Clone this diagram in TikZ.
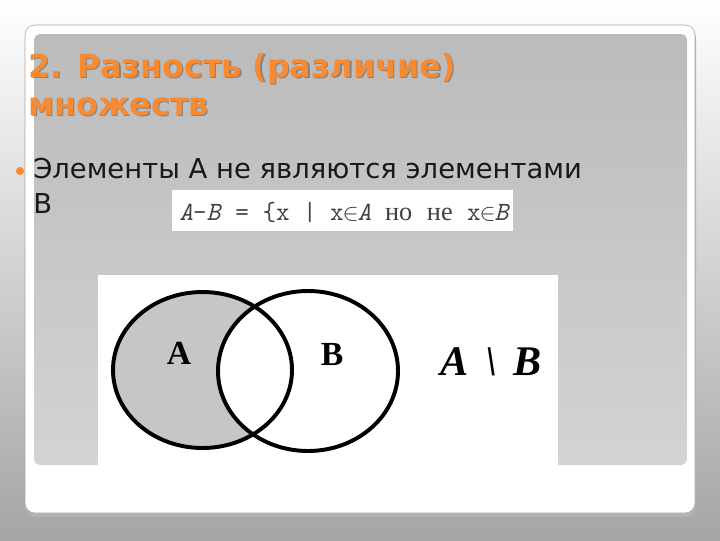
\documentclass[tikz,border=0pt]{standalone}
\usepackage{fontspec}
\setmainfont{DejaVu Sans}
\newfontfamily\cyrfont{Liberation Serif}
\newfontfamily\vennfont{Liberation Serif}
\usetikzlibrary{positioning}
\definecolor{titleorange}{HTML}{F68B33}
\definecolor{paneltop}{HTML}{BBBBBB}
\definecolor{panelbottom}{HTML}{D3D3D3}
\definecolor{bggray}{HTML}{A5A5A5}
\definecolor{setgray}{HTML}{C6C6C6}
\newcommand{\elem}{\makebox[0.525em]{$\in$}}
\newcommand{\cyrword}[1]{\makebox[1.05em]{\cyrfont #1}}
\tikzset{
  every picture/.style={
    line join=round
  },
  title/.style={
    anchor=base west, inner sep=0pt, text=titleorange,
    font=\bfseries\fontsize{22.6}{27}\selectfont
  },
  shadowed/.style={
    text=black, opacity=0.3
  },
  body/.style={
    anchor=base west, inner sep=0pt, text=black!90,
    font=\fontsize{19.5}{23}\selectfont
  },
  formula/.style={
    anchor=base west, inner sep=0pt, text=black!75,
    font=\ttfamily\fontsize{18.7}{22}\selectfont
  },
  setlabel/.style={
    inner sep=0pt, font=\vennfont\bfseries\fontsize{24}{28}\selectfont
  },
  difflabel/.style={
    anchor=base west, inner sep=0pt,
    font=\vennfont\bfseries\itshape\fontsize{30}{34}\selectfont
  }
}

\begin{document}
\begin{tikzpicture}[
    x=0.025cm, y=-0.025cm,
    venn/.style={line width=2.8pt},
    bullet/.style={circle, fill=titleorange, minimum size=5.8pt, inner sep=0pt}
  ]
  \useasboundingbox (0,0) rectangle (720,540);
  \shade [top color=white, bottom color=bggray] (0,0) rectangle (720,540);
  \fill [black!30, rounded corners=7pt] (25,28) rectangle (696,517);
  \draw [black!35, fill=white, rounded corners=7pt] (25,25) rectangle (695,513);
  \shade [top color=paneltop, bottom color=panelbottom, rounded corners=4pt]
    (34,34) rectangle (687,465);

  \node [title, shadowed] at (29.5,78.5) {2. Разность (различие)};
  \node [title] (title1) at (28,77) {2. Разность (различие)};
  \node [title, shadowed] at (29.5,116.5) {множеств};
  \node [title] (title2) at (28,115) {множеств};

  \node [bullet] (dot) at (20,171) {};
  \node [body] (line1) at (33,178) {Элементы А не являются элементами};
  \node [body] (line2) at (33,213) {В};

  \fill [white] (172,190) rectangle (513,231);
  \node [formula] (def) at (179,220)
    {\textit{A}-\textit{B} = \{x | x\elem\textit{A} \cyrword{но} \cyrword{не} x\elem\textit{B}};

  \fill [white] (98,275) rectangle (558,466);
  \fill [setgray] (202.5,370) ellipse [x radius=89.5, y radius=78];
  \fill [white] (308,371) ellipse [x radius=90, y radius=80];
  \draw [venn] (202.5,370) ellipse [x radius=89.5, y radius=78];
  \draw [venn] (308,371) ellipse [x radius=90, y radius=80];
  \node [setlabel] (setA) at (179,353) {A};
  \node [setlabel] (setB) at (332,354) {B};
  \node [difflabel] (diff) at (440,375) {A\hspace{0.4em}\textbackslash\hspace{0.4em}B};
\end{tikzpicture}
\end{document}
